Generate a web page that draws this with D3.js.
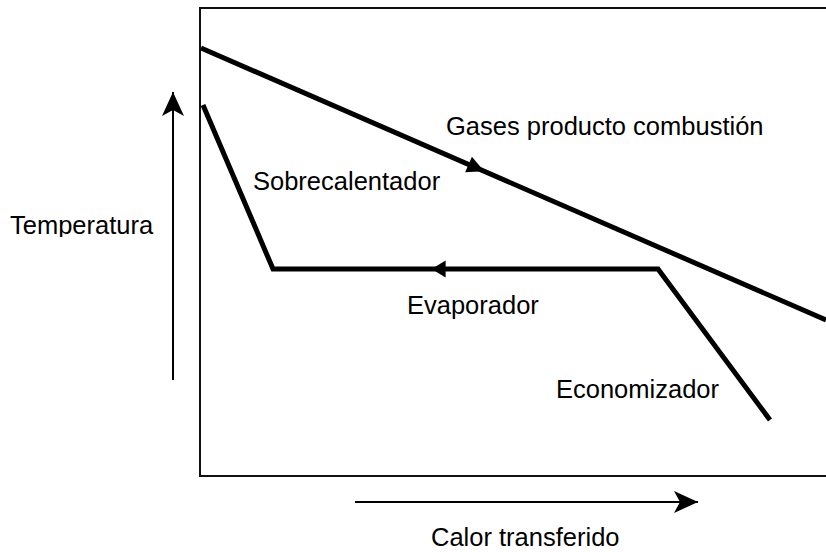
<!DOCTYPE html>
<html>
<head>
<meta charset="utf-8">
<script src="https://cdn.jsdelivr.net/npm/d3@7"></script>
<style>
    body { margin: 0; background: #fff; }
    text { font-family: "Liberation Sans", Arial, sans-serif; font-size: 25.5px; fill: #000; }
</style>
</head>
<body>
<div id="chart"></div>
<script>
// heat transferred (x) vs temperature (y), in arbitrary units
const gasX = [0, 625];
const gasT = [428, 156];
const waterX = [2, 72, 457, 569];
const waterT = [371, 207, 207, 56];
const labels = ["Gases producto combustión", "Sobrecalentador", "Evaporador", "Economizador"];
const labelX = [245, 52, 206, 355];
const labelT = [341, 286, 162, 78];
const axisTitles = ["Temperatura", "Calor transferido"];

const width = 826, height = 552;

const svg = d3.select("#chart")
    .append("svg")
    .attr("width", width)
    .attr("height", height);

const x = d3.scaleLinear().domain([0, 625]).range([201, 826]);
const y = d3.scaleLinear().domain([0, 468]).range([476, 8]);

// frame (right side runs off the page)
svg.append("rect")
    .attr("x", x(0) - 1)
    .attr("y", y(468))
    .attr("width", width)
    .attr("height", y(0) - y(468))
    .attr("fill", "none")
    .attr("stroke", "#111")
    .attr("stroke-width", 2);

const line = d3.line()
    .x(d => x(d[0]))
    .y(d => y(d[1]));

const gas = gasX.map((v, i) => [v, gasT[i]]);
const water = waterX.map((v, i) => [v, waterT[i]]);

svg.append("path")
    .attr("d", line(gas))
    .attr("fill", "none")
    .attr("stroke", "#000")
    .attr("stroke-width", 5);

svg.append("path")
    .attr("d", line(water))
    .attr("fill", "none")
    .attr("stroke", "#000")
    .attr("stroke-width", 5)
    .attr("stroke-linejoin", "miter");

// arrowhead placed along a segment: tip at fraction t from a to b
function headOn(a, b, t, len, half, reverse) {
    let x0 = x(a[0]), y0 = y(a[1]), x1 = x(b[0]), y1 = y(b[1]);
    let tx = x0 + (x1 - x0) * t, ty = y0 + (y1 - y0) * t;
    let ang = Math.atan2(y1 - y0, x1 - x0) * 180 / Math.PI;
    if (reverse) ang += 180;
    svg.append("path")
        .attr("d", `M0,0 L${-len},${-half} L${-len},${half} Z`)
        .attr("transform", `translate(${tx},${ty}) rotate(${ang})`)
        .attr("fill", "#000");
}
headOn(gas[0], gas[1], 0.453, 17, 8.5, false);
headOn(water[1], water[2], 0.412, 14, 8.5, true);

// axis arrows
function stealth(x0, y0, x1, y1) {
    svg.append("line")
        .attr("x1", x0).attr("y1", y0)
        .attr("x2", x1).attr("y2", y1)
        .attr("stroke", "#000")
        .attr("stroke-width", 2);
    let ang = Math.atan2(y1 - y0, x1 - x0) * 180 / Math.PI;
    svg.append("path")
        .attr("d", "M0,0 L-24,-11 L-18,0 L-24,11 Z")
        .attr("transform", `translate(${x1},${y1}) rotate(${ang})`)
        .attr("fill", "#000");
}
stealth(173, 380, 173, 92);
stealth(355, 502, 698, 502);

// labels
svg.selectAll(".lbl")
    .data(labels)
    .enter()
    .append("text")
    .attr("class", "lbl")
    .attr("x", (d, i) => x(labelX[i]))
    .attr("y", (d, i) => y(labelT[i]))
    .text(d => d);

svg.append("clipPath")
    .attr("id", "tclip")
    .append("rect")
    .attr("x", 0).attr("y", 200)
    .attr("width", 190).attr("height", 37);

svg.append("text")
    .attr("x", 10)
    .attr("y", 234)
    .attr("clip-path", "url(#tclip)")
    .text(axisTitles[0]);

svg.append("text")
    .attr("x", 431)
    .attr("y", 546)
    .text(axisTitles[1]);
</script>
</body>
</html>
